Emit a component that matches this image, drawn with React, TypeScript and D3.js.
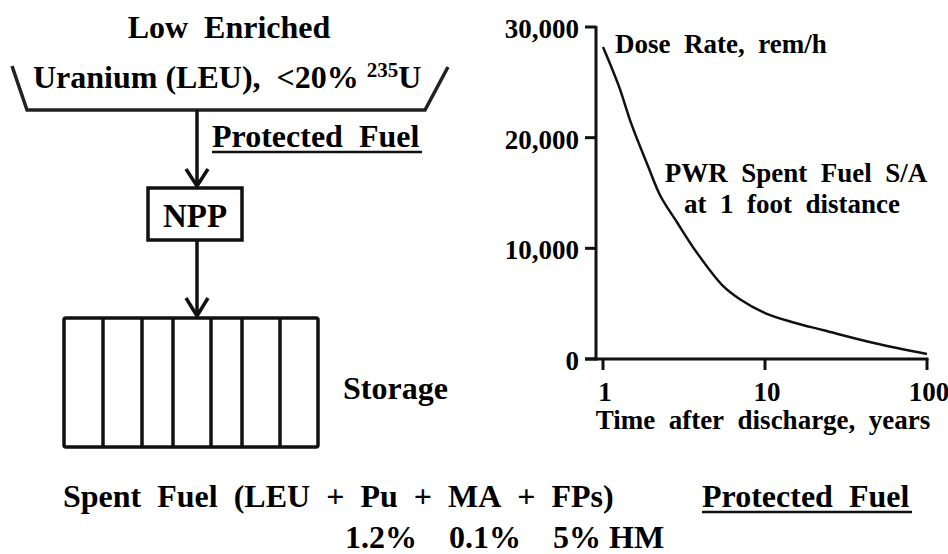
import React from "react";
import * as d3 from "d3";

// Dose rate of a PWR spent fuel assembly at 1 foot distance
const years = [1, 1.25, 1.5, 1.9, 2.25, 2.85, 3.8, 5.5, 7, 10, 15, 23, 47, 100];
const doseRate = [28200, 24700, 21200, 17400, 14800, 12400, 9600, 6600, 5400, 4150, 3300, 2600, 1450, 450];
const yTickValues = [0, 10000, 20000, 30000];
const xTickValues = [1, 10, 100];
const storageCellWidths = [39, 39, 31, 38, 31, 38, 38];
const composition = ["1.2%", "0.1%", "5% HM"];

const FONT = "Liberation Serif";
const INK = "#111";
const NB = "\u00A0";
// widen word gaps like the reference (double spaces)
const wide = (s: string, n = 2) => s.split(" ").join(NB.repeat(n));

export default function App() {
  const x = d3.scaleLog().domain([1, 100]).range([603, 927]);
  const y = d3.scaleLinear().domain([0, 30000]).range([359, 27]);
  const fmt = d3.format(",");
  const line = d3
    .line<number>()
    .x((_, i) => x(years[i]))
    .y((d) => y(d))
    .curve(d3.curveCatmullRom.alpha(0.5));

  const axisX = 596;
  const axisY = y(0);

  const rackX = 64;
  const rackTop = 318;
  const rackBottom = 447;
  const dividers: number[] = [];
  let acc = rackX;
  storageCellWidths.forEach((w, i) => {
    acc += w;
    if (i < storageCellWidths.length - 1) dividers.push(acc);
  });
  const rackRight = acc;

  const arrowX = 197;

  return (
    <svg width={948} height={554} style={{ position: "absolute", left: 0, top: 0 }}>
      <rect x={0} y={0} width={948} height={554} fill="#fff" />
      <g fontFamily={FONT} fontWeight={700} fill="#000">
        {/* ---------- Left diagram ---------- */}
        <text x={229} y={38} fontSize={32} textAnchor="middle">
          {wide("Low Enriched")}
        </text>
        <text x={33} y={88} fontSize={32}>
          {"Uranium (LEU)," + NB + NB + "<20%" + NB}
          <tspan fontSize={21} dy={-11}>235</tspan>
          <tspan dy={11}>U</tspan>
        </text>
        <text x={212} y={147} fontSize={32}>
          {wide("Protected Fuel")}
        </text>
        <text x={195} y={227} fontSize={33} textAnchor="middle">
          NPP
        </text>
        <text x={343} y={399} fontSize={32}>
          Storage
        </text>

        {/* ---------- Bottom text ---------- */}
        <text x={63} y={507} fontSize={32}>
          {wide("Spent Fuel (LEU + Pu + MA + FPs)")}
        </text>
        <text x={702} y={507} fontSize={32}>
          {wide("Protected Fuel")}
        </text>
        <text x={345} y={548} fontSize={32}>
          {composition.join(NB.repeat(4))}
        </text>

        {/* ---------- Right chart texts ---------- */}
        {yTickValues.map((v) => (
          <text key={v} x={579} y={y(v) + 11} fontSize={27} textAnchor="end">
            {fmt(v)}
          </text>
        ))}
        {xTickValues.map((v) => (
          <text key={v} x={x(v) + 2} y={401} fontSize={27} textAnchor="middle">
            {String(v)}
          </text>
        ))}
        <text x={763} y={429} fontSize={27} textAnchor="middle">
          {wide("Time after discharge, years")}
        </text>
        <text x={615} y={53} fontSize={27}>
          {wide("Dose Rate, rem/h")}
        </text>
        <text x={796} y={182} fontSize={27} textAnchor="middle">
          {wide("PWR Spent Fuel S/A")}
        </text>
        <text x={792} y={213} fontSize={27} textAnchor="middle">
          {wide("at 1 foot distance")}
        </text>
      </g>

      {/* ---------- Diagram lines ---------- */}
      <path d="M12,66 L27,110 L425,110 L448,67" fill="none" stroke="#222" strokeWidth={3.5} />
      <line x1={arrowX} y1={110} x2={arrowX} y2={185} stroke={INK} strokeWidth={3.5} />
      <path
        d={`M${arrowX - 11},169 L${arrowX},186 L${arrowX + 11},169`}
        fill="none"
        stroke={INK}
        strokeWidth={3.5}
      />
      <line x1={212} y1={152} x2={422} y2={152} stroke={INK} strokeWidth={2.5} />
      <rect x={148} y={188} width={94} height={52} fill="none" stroke={INK} strokeWidth={3.5} />
      <line x1={arrowX} y1={240} x2={arrowX} y2={316} stroke={INK} strokeWidth={3.5} />
      <path
        d={`M${arrowX - 11},298 L${arrowX},316 L${arrowX + 11},298`}
        fill="none"
        stroke={INK}
        strokeWidth={3.5}
      />
      <rect
        x={rackX}
        y={rackTop}
        width={rackRight - rackX}
        height={rackBottom - rackTop}
        rx={2}
        fill="none"
        stroke={INK}
        strokeWidth={3.5}
      />
      {dividers.map((dx, i) => (
        <line key={i} x1={dx} y1={rackTop} x2={dx} y2={rackBottom} stroke={INK} strokeWidth={3.5} />
      ))}
      <line x1={702} y1={512} x2={912} y2={512} stroke={INK} strokeWidth={2.5} />

      {/* ---------- Chart axes and curve ---------- */}
      <line x1={axisX} y1={y(30000) - 1} x2={axisX} y2={axisY + 1.5} stroke={INK} strokeWidth={3} />
      <line x1={585} y1={axisY} x2={x(100) + 1.5} y2={axisY} stroke={INK} strokeWidth={3} />
      {yTickValues.map((v) => (
        <line key={v} x1={585} y1={y(v)} x2={axisX} y2={y(v)} stroke={INK} strokeWidth={3} />
      ))}
      {xTickValues.map((v) => (
        <line key={v} x1={x(v)} y1={axisY} x2={x(v)} y2={axisY + 11} stroke={INK} strokeWidth={3} />
      ))}
      <path d={line(doseRate) || ""} fill="none" stroke={INK} strokeWidth={2.5} />
    </svg>
  );
}
